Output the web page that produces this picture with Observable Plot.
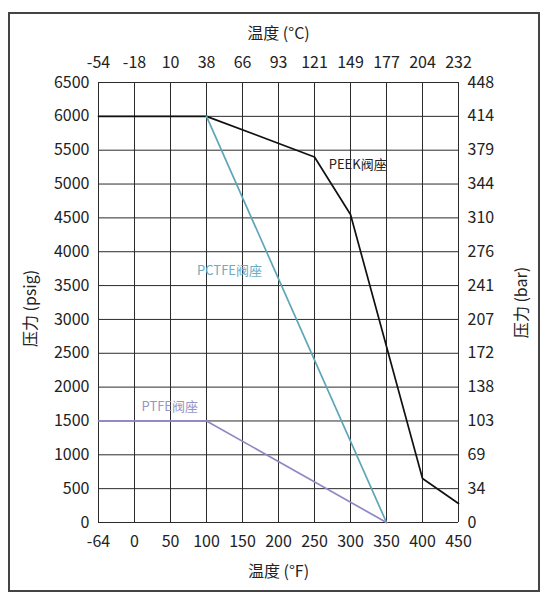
<!DOCTYPE html>
<html>
<head>
<meta charset="utf-8">
<script src="https://cdn.jsdelivr.net/npm/d3@7"></script>
<script src="https://cdn.jsdelivr.net/npm/@observablehq/plot@0.6"></script>
<style>
  html, body { margin: 0; padding: 0; background: #fff; }
  #wrap { position: relative; width: 546px; height: 597px; }
  #border { position: absolute; left: 8px; top: 12px; width: 528px; height: 576px; border: 2px solid #444; pointer-events: none; }
  svg { display: block; }
</style>
</head>
<body>
<div id="wrap"><div id="border"></div></div>
<script>
// ---- data ----
const fahrenheitTicks = [-64, 0, 50, 100, 150, 200, 250, 300, 350, 400, 450];
const celsiusTicks = [-54, -18, 10, 38, 66, 93, 121, 149, 177, 204, 232];
const psigTicks = [0, 500, 1000, 1500, 2000, 2500, 3000, 3500, 4000, 4500, 5000, 5500, 6000, 6500];
const barTicks = [0, 34, 69, 103, 138, 172, 207, 241, 276, 310, 344, 379, 414, 448];

const peekF = [-64, 100, 250, 300, 400, 450];
const peekP = [6000, 6000, 5400, 4550, 650, 280];
const pctfeF = [100, 350];
const pctfeP = [6000, 0];
const ptfeF = [-64, 100, 350];
const ptfeP = [1500, 1500, 0];

const seriesNames = ["PEEK阀座", "PCTFE阀座", "PTFE阀座"];
const labelF = [310, 132, 49];
const labelP = [5290, 3720, 1710];
const seriesColors = ["#111111", "#5ea5b9", "#8f88c3"];
const labelColors = ["#222222", "#6eabbf", "#9994c6"];

const toRows = (xs, ys, name) => xs.map((x, i) => ({x, y: ys[i], name}));
const lines = [
  ...toRows(peekF, peekP, seriesNames[0]),
  ...toRows(pctfeF, pctfeP, seriesNames[1]),
  ...toRows(ptfeF, ptfeP, seriesNames[2])
];
const labels = seriesNames.map((name, i) => ({name, x: labelF[i], y: labelP[i], color: labelColors[i]}));

// ---- layout ----
const W = 546, H = 597;
const mL = 98, mR = 88, mT = 82, mB = 75;
const plotW = W - mL - mR;
const step = plotW / (fahrenheitTicks.length - 1);

const font = "'Noto Sans CJK SC', 'Noto Sans', sans-serif";
const gridColor = "#2b2b2b";
const fs = 16;

const chart = Plot.plot({
  width: W,
  height: H,
  marginLeft: mL,
  marginRight: mR,
  marginTop: mT,
  marginBottom: mB,
  style: {fontFamily: font, fontSize: fs + "px", color: "#222", background: "transparent"},
  x: {type: "linear", domain: [-64, 0, 450], range: [mL, mL + step, W - mR]},
  y: {domain: [0, 6500]},
  color: {domain: seriesNames, range: seriesColors},
  marks: [
    Plot.gridX(fahrenheitTicks, {stroke: gridColor, strokeOpacity: 1, strokeWidth: 1}),
    Plot.gridY(psigTicks, {stroke: gridColor, strokeOpacity: 1, strokeWidth: 1}),
    Plot.axisX(fahrenheitTicks, {anchor: "bottom", tickSize: 0, tickPadding: 13, label: null, fontSize: fs,
      tickFormat: d => String(d)}),
    Plot.axisX(fahrenheitTicks, {anchor: "top", tickSize: 0, tickPadding: 15, label: null, fontSize: fs,
      tickFormat: d => String(celsiusTicks[fahrenheitTicks.indexOf(d)])}),
    Plot.axisY(psigTicks, {anchor: "left", tickSize: 0, tickPadding: 9, label: null, fontSize: fs,
      tickFormat: d => String(d)}),
    Plot.axisY(psigTicks, {anchor: "right", tickSize: 0, tickPadding: 9, label: null, fontSize: fs,
      tickFormat: d => String(barTicks[psigTicks.indexOf(d)])}),
    Plot.line(lines, {x: "x", y: "y", z: "name", stroke: "name", strokeWidth: 1.7}),
    Plot.text(labels, {x: "x", y: "y", text: "name", fill: "color", fontSize: 13}),
    Plot.text(["温度 (°C)"], {frameAnchor: "top", lineAnchor: "middle", textAnchor: "middle", dy: -49, fontSize: fs, fill: "#222"}),
    Plot.text(["温度 (°F)"], {frameAnchor: "bottom", lineAnchor: "middle", textAnchor: "middle", dy: 49, fontSize: fs, fill: "#222"}),
    Plot.text(["压力 (psig)"], {frameAnchor: "left", lineAnchor: "middle", textAnchor: "middle", dx: -68, dy: 6, rotate: -90, fontSize: fs, fill: "#222"}),
    Plot.text(["压力 (bar)"], {frameAnchor: "right", lineAnchor: "middle", textAnchor: "middle", dx: 63, dy: 0, rotate: -90, fontSize: fs, fill: "#222"})
  ]
});
document.getElementById("wrap").prepend(chart);
</script>
</body>
</html>
